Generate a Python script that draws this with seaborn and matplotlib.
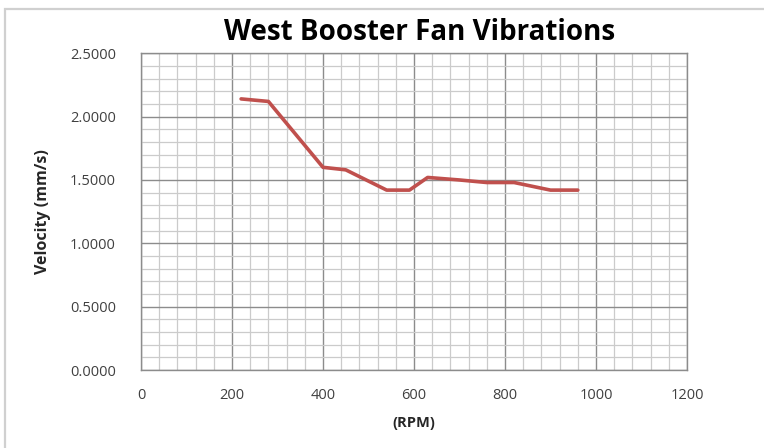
import matplotlib
matplotlib.use("Agg")
import matplotlib.pyplot as plt
from matplotlib.ticker import MultipleLocator, FormatStrFormatter
from matplotlib.patches import Rectangle
import seaborn as sns
import pandas as pd

# Fan speed (RPM) and measured vibration velocity (mm/s)
rpm = [220, 280, 400, 450, 540, 590, 630, 700, 760, 820, 900, 960]
velocity = [2.14, 2.12, 1.60, 1.58, 1.42, 1.42, 1.52, 1.50, 1.48, 1.48, 1.42, 1.42]

title = "West Booster Fan Vibrations"
x_label = "(RPM)"
y_label = "Velocity (mm/s)"

df = pd.DataFrame({"RPM": rpm, "Velocity": velocity})

sns.set_style("white")
plt.rcParams["font.family"] = ["Open Sans", "DejaVu Sans"]

fig = plt.figure(figsize=(7.64, 4.48), dpi=100)
ax = fig.add_axes([141 / 764, 1 - 370 / 448, (687 - 141) / 764, (370 - 53.3) / 448])

# chart-area frame
fig.patches.append(Rectangle((5 / 764, -0.1), 1.2, 1 - 9 / 448 + 0.1,
                             transform=fig.transFigure, fill=False,
                             edgecolor="#d0d0d0", linewidth=1.6))

sns.lineplot(data=df, x="RPM", y="Velocity", ax=ax, color="#c0504d",
             linewidth=2.6, zorder=5)

ax.set_xlim(0, 1200)
ax.set_ylim(0, 2.5)
ax.xaxis.set_major_locator(MultipleLocator(200))
ax.xaxis.set_minor_locator(MultipleLocator(40))
ax.yaxis.set_major_locator(MultipleLocator(0.5))
ax.yaxis.set_minor_locator(MultipleLocator(0.1))
ax.yaxis.set_major_formatter(FormatStrFormatter("%.4f"))

ax.grid(which="minor", color="#cbcbcb", linewidth=0.9)
ax.grid(which="major", color="#8c8c8c", linewidth=1.0)
ax.set_axisbelow(True)

for side in ("top", "right", "left", "bottom"):
    ax.spines[side].set_color("#8c8c8c")
    ax.spines[side].set_linewidth(1.0)

ax.tick_params(which="major", direction="out", length=5, width=1.0,
               color="#8c8c8c", labelcolor="#404040", labelsize=10.5)
ax.tick_params(which="minor", length=0)
ax.tick_params(axis="x", pad=8)
ax.tick_params(axis="y", pad=13)

ax.set_xlabel(x_label, fontsize=10.5, fontweight="bold", color="#262626", labelpad=9)
ax.set_ylabel(y_label, fontsize=11.5, fontweight="bold", color="#262626", labelpad=14)

fig.text(420 / 764, 1 - 33 / 448, title, ha="center", va="center",
         fontsize=20, fontweight="bold", color="#000000")

fig.savefig("out.png", dpi=100)
